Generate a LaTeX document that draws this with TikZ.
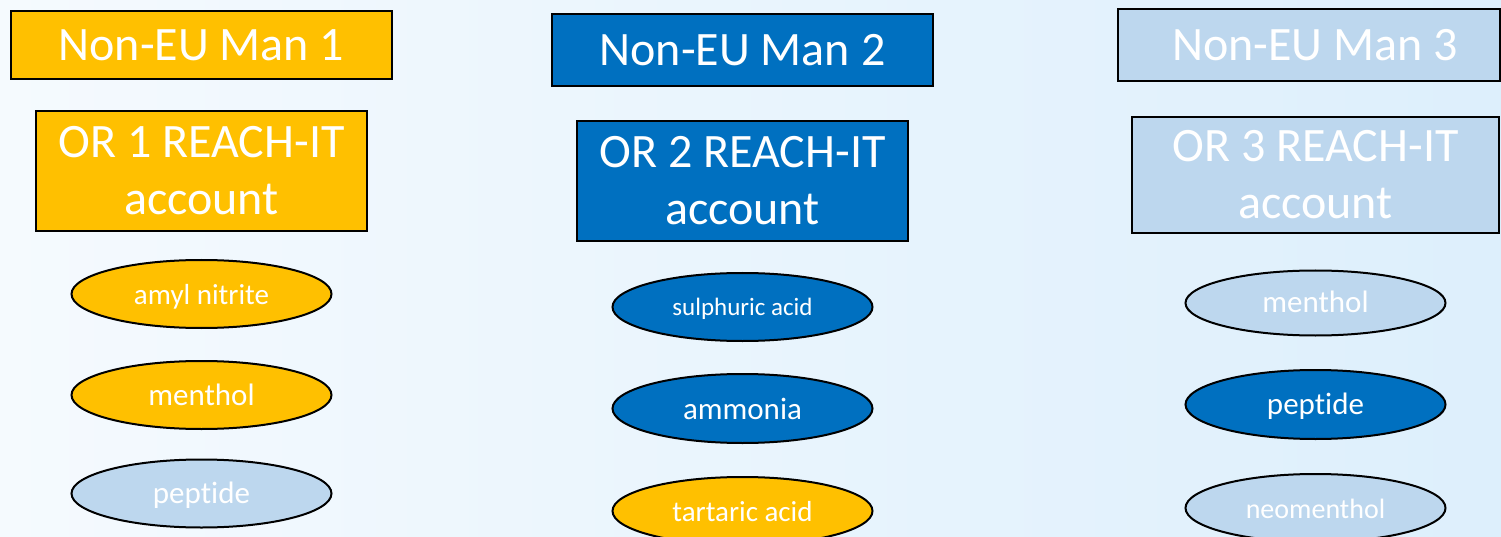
\documentclass[tikz,border=0pt]{standalone}
\usepackage{fontspec}
\setmainfont[Ligatures=NoCommon]{Carlito}
\usetikzlibrary{shapes.geometric}
\definecolor{gold}{HTML}{FFC000}
\definecolor{deepblue}{HTML}{0070C0}
\definecolor{paleblue}{HTML}{BDD7EE}
\definecolor{bgleft}{HTML}{F5FAFE}
\definecolor{bgright}{HTML}{DDEFFC}
\tikzset{
  titlebox/.style={draw=black, line width=2pt, rectangle, inner sep=0pt,
    text=white, font=\fontsize{48}{57}\selectfont, align=center},
  chem/.style={draw=black, line width=2pt, ellipse, inner sep=0pt,
    minimum width=260pt, minimum height=68pt, text=white,
    text height=20pt, text depth=0pt},
  fs/.style={font=\fontsize{#1}{#1}\selectfont}
}
\begin{document}
\begin{tikzpicture}[x=1pt,y=-1pt]
\useasboundingbox (0,0) rectangle (1501,537);
\clip (0,0) rectangle (1501,537);
\shade[left color=bgleft, right color=bgright] (0,0) rectangle (1501,537);

% first manufacturer column
\node[titlebox, fill=gold, minimum width=381pt, minimum height=68pt] (man1) at (201.5,45) {Non-EU Man 1};
\node[titlebox, fill=gold, minimum width=331pt, minimum height=120pt] (or1) at (201.5,171) {OR 1 REACH-IT\\account};
\node[chem, fill=gold, fs=29] (c11) at (201.5,294) {amyl nitrite};
\node[chem, fill=gold, fs=31] (c12) at (201.5,395) {menthol};
\node[chem, fill=paleblue, fs=31] (c13) at (201.5,493.5) {peptide};

% second manufacturer column
\node[titlebox, fill=deepblue, minimum width=381pt, minimum height=72pt] (man2) at (742.5,50) {Non-EU Man 2};
\node[titlebox, fill=deepblue, minimum width=331pt, minimum height=120pt] (or2) at (742.5,181) {OR 2 REACH-IT\\account};
\node[chem, fill=deepblue, fs=25, text height=16pt] (c21) at (742.5,307) {sulphuric acid};
\node[chem, fill=deepblue, minimum height=69pt, fs=31, text height=21pt] (c22) at (742.5,408.5) {ammonia};
\node[chem, fill=gold, fs=29] (c23) at (742.5,511) {tartaric acid};

% third manufacturer column (box runs to the right edge)
\node[titlebox, fill=paleblue, minimum width=382pt, minimum height=72pt] (man3) at (1309,45) {\hspace*{12pt}Non-EU Man 3};
\node[titlebox, fill=paleblue, minimum width=367pt, minimum height=116pt] (or3) at (1315.5,175) {OR 3 REACH-IT\\account};
\node[chem, fill=paleblue, minimum height=65pt, fs=31, text height=18pt] (c31) at (1315.5,303) {menthol};
\node[chem, fill=deepblue, minimum height=69pt, fs=31] (c32) at (1315.5,404.5) {peptide};
\node[chem, fill=paleblue, fs=28] (c33) at (1315.5,508) {neomenthol};
\end{tikzpicture}
\end{document}
